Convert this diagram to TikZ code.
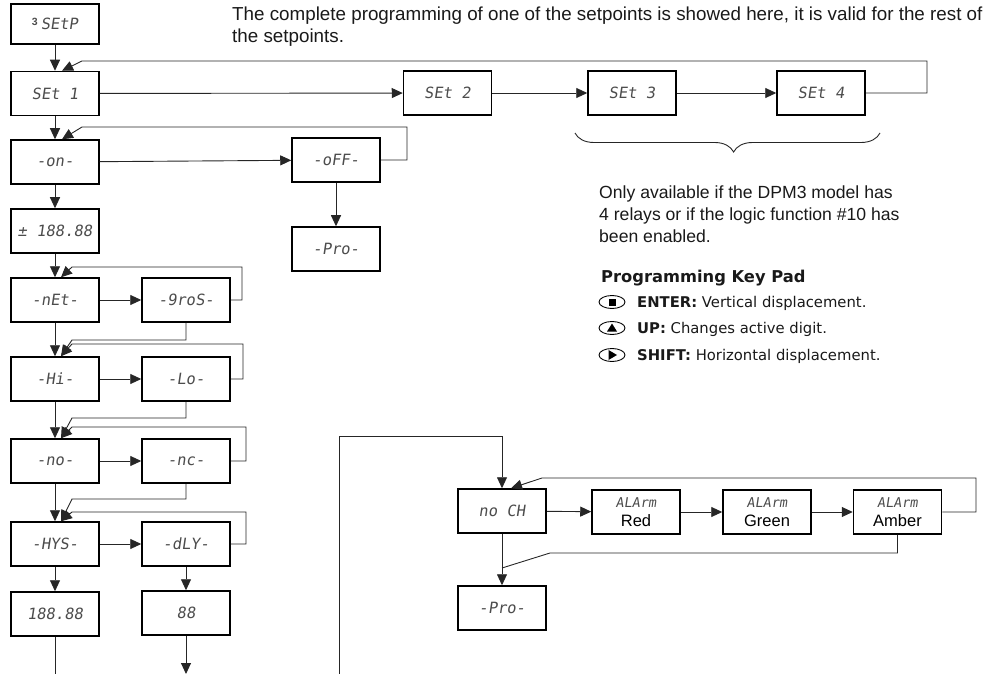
\documentclass[tikz,border=0pt]{standalone}
\usepackage{fontspec}
\setmainfont{Liberation Sans}
\newfontfamily\segfont{DejaVu Sans Mono}[FakeSlant=0.15]
\newfontfamily\keyfont{DejaVu Sans}
\usetikzlibrary{arrows.meta,shapes.geometric,decorations.pathreplacing}
\newcommand{\alrm}[1]{{\fontsize{13.5}{13.5}\selectfont ALArm}\\[3pt]{\rmfamily\color{black}\fontsize{16.5}{16.5}\selectfont #1}}

\begin{document}
\begin{tikzpicture}[x=1pt,y=-1pt,
    disp/.style={draw,line width=1.5pt,minimum width=88pt,minimum height=44pt,inner sep=0pt,
      font=\segfont\fontsize{15.5}{16}\selectfont,text=black!70},
    alarm/.style={disp,align=center},
    go/.style={-{Triangle[length=11pt,width=10pt]},line width=0.9pt,draw=black!85},
    ln/.style={line width=0.9pt,draw=black!85},
    txt/.style={font=\fontsize{17.6}{22}\selectfont,anchor=base west,inner sep=0pt,text=black!90},
    key/.style={font=\keyfont\fontsize{14.8}{18}\selectfont,anchor=base west,inner sep=0pt,text=black!90},
    btn/.style={draw,line width=0.9pt,ellipse,minimum width=26pt,minimum height=13pt,inner sep=0pt}]
  \useasboundingbox (0,0) rectangle (1005,674);

  \path (55,24) node[disp,minimum height=40pt] (setp) {{\rmfamily\bfseries\fontsize{10.5}{10}\selectfont\raisebox{4pt}{3}}\hspace{3pt}SEtP};
  \path (55,93.5) node[disp] (set1) {SEt 1};
  \path (447.5,93) node[disp] (set2) {SEt 2};
  \path (632,93) node[disp] (set3) {SEt 3};
  \path (821,93) node[disp] (set4) {SEt 4};
  \path (55,162) node[disp] (on) {-on-};
  \path (336,160) node[disp] (off) {-oFF-};
  \path (336,249) node[disp] (pro) {-Pro-};
  \path (55,231) node[disp] (pm) {± 188.88};
  \path (55,300) node[disp] (net) {-nEt-};
  \path (186,300) node[disp] (gros) {-9roS-};
  \path (55,379) node[disp] (hi) {-Hi-};
  \path (186,379) node[disp] (lo) {-Lo-};
  \path (55,461) node[disp] (no) {-no-};
  \path (186,461) node[disp] (nc) {-nc-};
  \path (55,544) node[disp] (hys) {-HYS-};
  \path (186,544) node[disp] (dly) {-dLY-};
  \path (55,614) node[disp] (hysval) {188.88};
  \path (186,613) node[disp] (dlyval) {88};
  \path (502,511) node[disp] (noch) {no CH};
  \path (636,512) node[alarm] (red) {\alrm{Red}};
  \path (767,512) node[alarm] (green) {\alrm{Green}};
  \path (897.5,512) node[alarm] (amber) {\alrm{Amber}};
  \path (502,608) node[disp] (pro2) {-Pro-};

  \coordinate (hysout) at (55,674);
  \coordinate (dlyout) at (186,674);
  \coordinate (chin) at (339,674);

  \draw[go] (setp) -- (set1);
  \draw[go] (set1) -- (set2);
  \draw[go] (set2) -- (set3);
  \draw[go] (set3) -- (set4);
  \draw[go] (set4.east) -- (927,93) |- (82,61) -- ([xshift=7pt]set1.north);
  \draw[go] (set1) -- (on);
  \draw[go] (on) -- (off);
  \draw[go] (off) -- (pro);
  \draw[go] (off.east) -- (407,160) |- (82,127) -- ([xshift=7pt]on.north);
  \draw[go] (on) -- (pm);
  \draw[go] (pm) -- (net);
  \draw[go] (net) -- (gros);
  \draw[go] (gros.east) -- (242,300) |- (72,267) -- ([xshift=6pt]net.north);
  \draw[go] (net) -- (hi);
  \draw[go] (gros.south) |- (72,340) -- ([xshift=6pt]hi.north);
  \draw[go] (hi) -- (lo);
  \draw[go] (lo.east) -- (243,379) |- (72,344) -- ([xshift=6pt]hi.north);
  \draw[go] (hi) -- (no);
  \draw[go] (lo.south) |- (72,418) -- ([xshift=6pt]no.north);
  \draw[go] (no) -- (nc);
  \draw[go] (nc.east) -- (246,461) |- (72,427) -- ([xshift=6pt]no.north);
  \draw[go] (no) -- (hys);
  \draw[go] (nc.south) |- (72,499) -- ([xshift=6pt]hys.north);
  \draw[go] (hys) -- (dly);
  \draw[go] (dly.east) -- (246,544) |- (72,512) -- ([xshift=6pt]hys.north);
  \draw[go] (hys) -- (hysval);
  \draw[go] (dly) -- (dlyval);
  \draw[ln] (hysval) -- (hysout);
  \draw[go] (dlyval) -- (dlyout);
  \draw[go] (chin) |- (502,436) -- (noch);
  \draw[go] (noch) -- (red);
  \draw[go] (red) -- (green);
  \draw[go] (green) -- (amber);
  \draw[go] (amber.east) -- (976,512) |- (542,478) -- ([xshift=9pt]noch.north);
  \draw[go] (noch) -- (pro2);
  \draw[ln] (amber.south) |- (550,553) -- (502,568);

  \draw[ln,decorate,decoration={brace,mirror,amplitude=19pt,aspect=0.52}] (575,133) -- (880,133);

  \node[txt,font=\fontsize{18.8}{22}\selectfont] (intro1) at (232,20.5) {The complete programming of one of the setpoints is showed here, it is valid for the rest of};
  \node[txt,font=\fontsize{18.8}{22}\selectfont] (intro2) at (232,43) {the setpoints.};
  \node[txt] (note1) at (599,199) {Only available if the DPM3 model has};
  \node[txt] (note2) at (599,221) {4 relays or if the logic function \#10 has};
  \node[txt] (note3) at (599,243) {been enabled.};

  \node[key,font=\keyfont\bfseries\fontsize{16.3}{18}\selectfont] (keyhead) at (601,282) {Programming Key Pad};
  \node[btn] (enterkey) at (612,302) {};
  \fill (enterkey.center) +(-3.5,-3.5) rectangle +(3.5,3.5);
  \node[key] (enterlbl) at (637,307) {\textbf{ENTER:} Vertical displacement.};
  \node[btn] (upkey) at (612,328) {};
  \fill (upkey.center) +(-5,3.5) -- +(5,3.5) -- +(0,-4.5) -- cycle;
  \node[key] (uplbl) at (637,333) {\textbf{UP:} Changes active digit.};
  \node[btn] (shiftkey) at (612,355) {};
  \fill (shiftkey.center) +(-3.5,-5) -- +(-3.5,5) -- +(5,0) -- cycle;
  \node[key] (shiftlbl) at (637,360) {\textbf{SHIFT:} Horizontal displacement.};
\end{tikzpicture}
\end{document}
